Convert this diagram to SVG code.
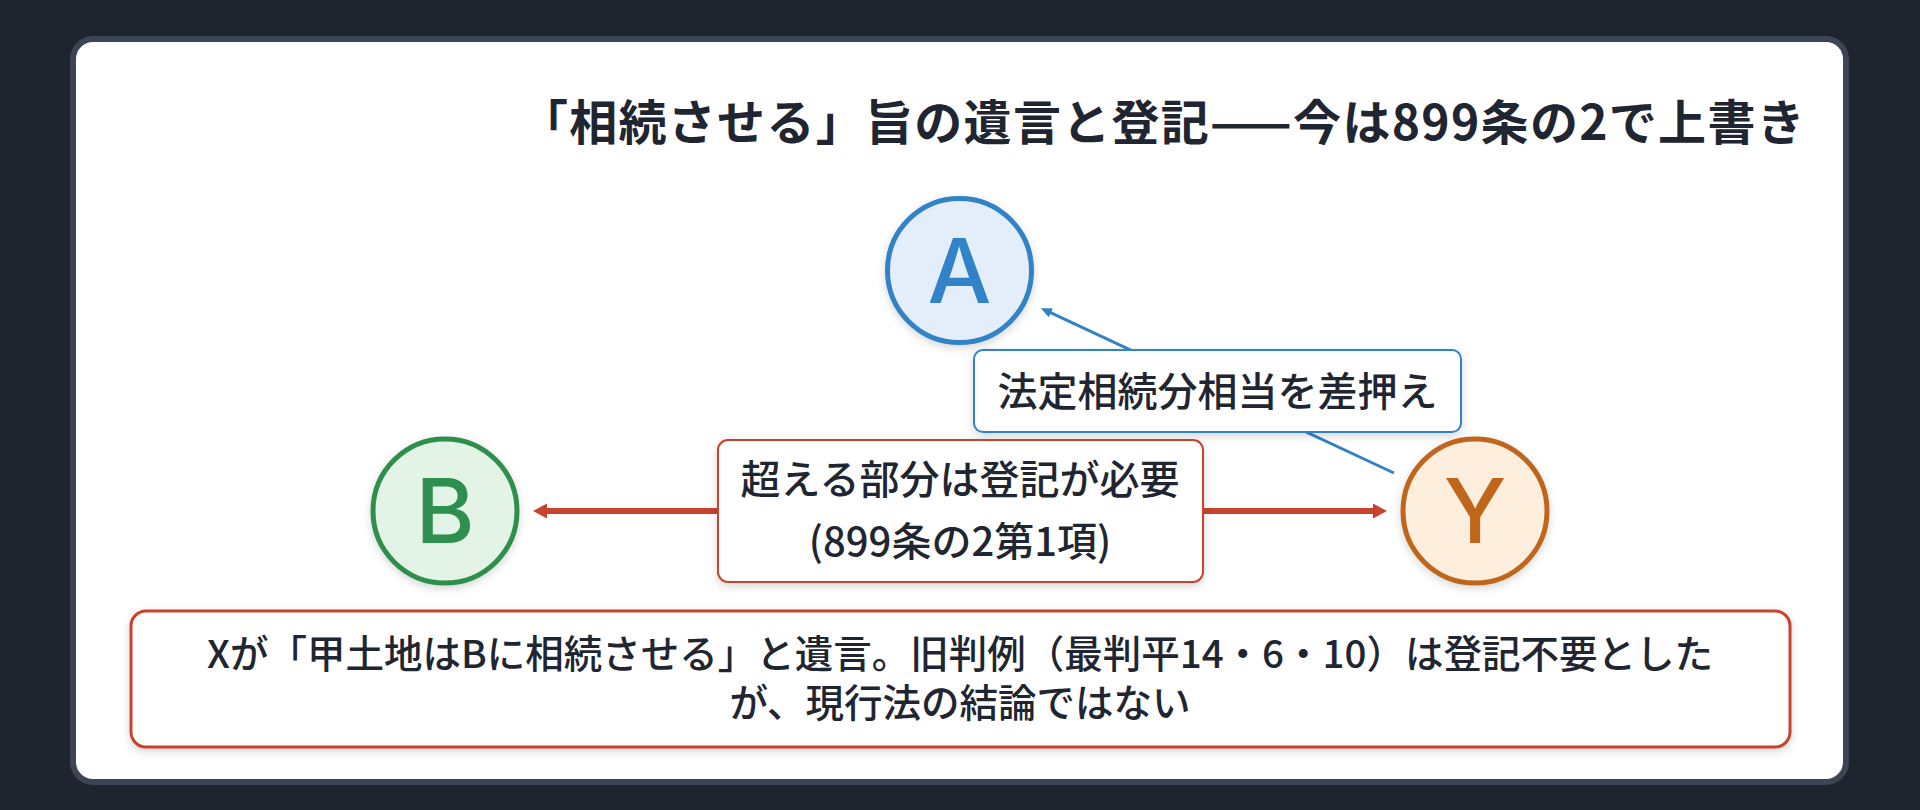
<svg xmlns="http://www.w3.org/2000/svg" width="1920" height="810" viewBox="0 0 1920 810">
  <defs>
    <style>
      .t { font-family: "Noto Sans CJK JP", "Noto Sans", sans-serif; fill: #1f2631; }
      .title { font-size: 48px; font-weight: 600; letter-spacing: 1.3px; }
      .lbl { font-size: 40px; font-weight: 500; text-anchor: middle; }
      .note { font-size: 38.5px; font-weight: 500; text-anchor: middle; }
      .letter { font-family: Inter, "Noto Sans", sans-serif; font-size: 90px; font-weight: 500; text-anchor: middle; }
      .node { stroke-width: 5; filter: url(#sh); }
      .box { fill: #ffffff; filter: url(#sh); }
    </style>
    <filter id="sh" x="-20%" y="-20%" width="140%" height="150%">
      <feDropShadow dx="0" dy="3" stdDeviation="4" flood-color="#000000" flood-opacity="0.16"/>
    </filter>
    <marker id="redHead" markerUnits="userSpaceOnUse" markerWidth="16" markerHeight="16" refX="1" refY="7.5" orient="auto-start-reverse">
      <path d="M0,0 L14,7.5 L0,15 z" fill="#c8432e"/>
    </marker>
    <marker id="blueHead" markerUnits="userSpaceOnUse" markerWidth="12" markerHeight="12" refX="1" refY="5" orient="auto">
      <path d="M0,0 L11,5 L0,10 z" fill="#3282c8"/>
    </marker>
  </defs>

  <rect x="0" y="0" width="1920" height="810" fill="#1e252f"/>
  <rect id="card" x="73" y="39" width="1773" height="743" rx="20" fill="#ffffff" stroke="#3b4555" stroke-width="6"/>

  <text id="title" class="t title" x="1806" y="140" text-anchor="end">「相続させる」旨の遺言と登記——今は899条の2で上書き</text>

  <g id="connectors">
    <line x1="1394" y1="473" x2="1050" y2="312.4" stroke="#3282c8" stroke-width="3" marker-end="url(#blueHead)"/>
    <line x1="546" y1="511" x2="1374" y2="511" stroke="#c8432e" stroke-width="6" marker-start="url(#redHead)" marker-end="url(#redHead)"/>
  </g>

  <g id="label-seize">
    <rect class="box" x="974" y="350" width="487" height="82" rx="9" stroke="#3282c8" stroke-width="2"/>
    <text class="t lbl" x="1217.5" y="406">法定相続分相当を差押え</text>
  </g>

  <g id="label-excess">
    <rect class="box" x="718" y="440" width="485" height="142" rx="10" stroke="#c8432e" stroke-width="2"/>
    <text class="t lbl" x="960" y="494">超える部分は登記が必要</text>
    <text class="t lbl" x="960" y="556">(899条の2第1項)</text>
  </g>

  <g id="node-A">
    <circle class="node" cx="959.5" cy="270.5" r="72" fill="#e3eefa" stroke="#3282c8"/>
    <text class="letter" x="959.5" y="303" fill="#3282c8">A</text>
  </g>

  <g id="node-B">
    <circle class="node" cx="445" cy="511" r="72" fill="#e3f4e7" stroke="#2f8f4e"/>
    <text class="letter" x="445" y="543" fill="#2f8f4e">B</text>
  </g>

  <g id="node-Y">
    <circle class="node" cx="1475" cy="511" r="72" fill="#fdeedd" stroke="#c0661a"/>
    <text class="letter" x="1475" y="543" fill="#c0661a">Y</text>
  </g>

  <g id="note">
    <rect class="box" x="131" y="611" width="1659" height="136" rx="15" stroke="#c8432e" stroke-width="3"/>
    <text class="t note" x="960" y="668">Xが「甲土地はBに相続させる」と遺言。旧判例（最判平14・6・10）は登記不要とした</text>
    <text class="t note" x="960" y="717">が、現行法の結論ではない</text>
  </g>
</svg>
